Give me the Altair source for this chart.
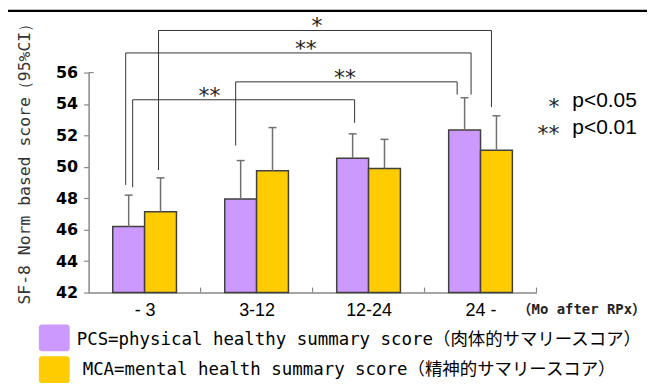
import altair as alt
import pandas as pd

# ---------------- data ----------------
groups = ["- 3", "3-12", "12-24", "24 -"]
series = ["PCS", "MCS"]
pcs_mean = [46.2, 47.95, 50.55, 52.35]
pcs_upper = [48.2, 50.4, 52.1, 54.4]
mcs_mean = [47.15, 49.75, 49.9, 51.05]
mcs_upper = [49.3, 52.5, 51.75, 53.25]

# significance brackets (group index, series index, bracket level, end levels)
br_label = ["*", "**", "**", "**"]
br_from_group = [0, 0, 1, 0]
br_from_series = [1, 0, 0, 0]
br_to_group = [3, 3, 3, 2]
br_to_series = [1, 0, 0, 0]
br_level = [58.68, 57.25, 55.41, 54.27]
br_from_end = [49.8, 48.85, 51.35, 48.7]
br_to_end = [53.8, 54.6, 54.6, 52.8]

y_ticks = [42, 44, 46, 48, 50, 52, 54, 56]
legend_labels = ["PCS=physical healthy summary score（肉体的サマリースコア）",
                 "MCA=mental health summary score（精神的サマリースコア）"]
sig_labels = ["*", "**"]
sig_texts = ["p<0.05", "p<0.01"]

# ---------------- style ----------------
W, H = 450, 221
colors = ["#CC99FF", "#FFCC00"]
BAR_W = 32 / 112.5          # bar width in x units
CAP = 4 / 112.5
br_from_nudge = [-2, -3, -5, 4]    # px
br_to_nudge = [-5, 6.5, -7.5, 2]   # px
br_label_x = [2.04, 1.94, 2.29, 1.08]
PX = 1 / 112.5
PY = 14 / 221

X = alt.Scale(domain=[0, 4], nice=False, zero=False)
Y = alt.Scale(domain=[42, 56], nice=False, zero=False)

rows = []
for i, g in enumerate(groups):
    c = i + 0.5
    for s, (m, u) in enumerate([(pcs_mean[i], pcs_upper[i]), (mcs_mean[i], mcs_upper[i])]):
        x0 = c - BAR_W if s == 0 else c
        rows.append(dict(group=g, series=series[s], x0=x0, x1=x0 + BAR_W,
                         xe=x0 + BAR_W / 2, mean=m, upper=u, base=42))
bars_df = pd.DataFrame(rows)

label_expr = "[" + ",".join("'%s'" % g for g in groups) + "][floor(datum.value)]"

xaxis = alt.Axis(values=[0.5, 1.5, 2.5, 3.5], labelExpr=label_expr, ticks=False,
                 domainColor="#888888", domainWidth=1.5, labelFont="Liberation Sans",
                 labelFontSize=18, labelColor="black", labelPadding=9, title=None,
                 grid=False, labelOverlap=False)
yaxis = alt.Axis(values=y_ticks, tickSize=5, tickColor="#888888", tickWidth=1.2,
                 domainColor="#888888", domainWidth=1.5, labelFont="DejaVu Sans",
                 labelFontWeight="bold", labelFontSize=16, labelColor="black",
                 labelPadding=6, title=None, grid=False, labelOverlap=False)


def XQ(f):
    return alt.X(f, type="quantitative", scale=X, axis=xaxis)


def YQ(f):
    return alt.Y(f, type="quantitative", scale=Y, axis=yaxis)


bars = alt.Chart(bars_df).mark_rect(stroke="#404040", strokeWidth=1.5).encode(
    x=XQ("x0"), x2="x1:Q", y=YQ("mean"), y2="base:Q",
    color=alt.Color("series:N", scale=alt.Scale(domain=series, range=colors), legend=None),
)

err = alt.Chart(bars_df).mark_rule(color="#707070", strokeWidth=1.5).encode(
    x=XQ("xe"), y=YQ("mean"), y2="upper:Q")
cap_df = bars_df.assign(c0=bars_df.xe - CAP, c1=bars_df.xe + CAP)
caps = alt.Chart(cap_df).mark_rule(color="#707070", strokeWidth=1.5).encode(
    x=XQ("c0"), x2="c1:Q", y=YQ("upper"))

# x-axis ticks at band boundaries, pointing up
bt_df = pd.DataFrame({"b": [1, 2, 3, 4]})
bticks = alt.Chart(bt_df).mark_rule(color="#888888", strokeWidth=1.2).encode(
    x=XQ("b"), y=alt.value(H), y2=alt.value(H - 5))

# brackets
seg = []
lab = []
for k in range(len(br_label)):
    xa = br_from_group[k] + 0.5 + (BAR_W / 2 if br_from_series[k] else -BAR_W / 2) + br_from_nudge[k] * PX
    xb = br_to_group[k] + 0.5 + (BAR_W / 2 if br_to_series[k] else -BAR_W / 2) + br_to_nudge[k] * PX
    L = br_level[k]
    seg.append(dict(xa=xa, xb=xa, ya=L, yb=br_from_end[k]))
    seg.append(dict(xa=xb, xb=xb, ya=L, yb=br_to_end[k]))
    seg.append(dict(xa=xa, xb=xb, ya=L, yb=L))
    lab.append(dict(x=br_label_x[k], y=L + 9 * PY, t=br_label[k]))
seg_df = pd.DataFrame(seg)
lab_df = pd.DataFrame(lab)
brackets = alt.Chart(seg_df).mark_rule(color="#333333", strokeWidth=1).encode(
    x=XQ("xa"), x2="xb:Q", y=YQ("ya"), y2="yb:Q")
br_text = alt.Chart(lab_df).mark_text(font="DejaVu Sans", fontSize=22, baseline="middle",
                                      align="center", color="#222222", dy=5).encode(
    x=XQ("x"), y=YQ("y"), text="t:N")

one = pd.DataFrame({"a": [0]})


def ptext(txt, x, y, **kw):
    return alt.Chart(one).mark_text(**kw).encode(
        x=alt.value(x), y=alt.value(y), text=alt.value(txt))


# frame lines
frame_top = alt.Chart(one).mark_rule(color="black", strokeWidth=2.5).encode(
    x=alt.value(-83), x2=alt.value(W + 200), y=alt.value(-62))
frame_left = alt.Chart(one).mark_rule(color="black", strokeWidth=2.5).encode(
    x=alt.value(-83), y=alt.value(-63), y2=alt.value(H + 200))

# top tick of y axis pointing right
ytop = alt.Chart(one).mark_rule(color="#888888", strokeWidth=1.2).encode(
    x=alt.value(0), x2=alt.value(5), y=alt.value(0))

ytitle = ptext("SF-8 Norm based score（95%CI）", -64, 88, font="DejaVu Sans Mono",
               fontSize=16.5, angle=270, align="center", baseline="middle", color="#333333")

xunit = ptext("（Mo after RPx）", 431, 239, font="DejaVu Sans Mono, Noto Sans CJK JP",
              fontSize=14, fontWeight="bold", align="left", baseline="middle", color="#222222")

# significance legend
sig_layers = []
for s, t, yy in zip(sig_labels, sig_texts, [29, 56]):
    sig_layers.append(ptext(s, 473, yy, font="DejaVu Sans", fontSize=22, align="right",
                            baseline="middle", color="#222222", dy=6))
    sig_layers.append(ptext(t, 486, yy, font="Liberation Sans", fontSize=21, align="left",
                            baseline="middle", color="black"))

# series legend
leg_layers = []
for col, label, y0, tx in zip(colors, legend_labels, [253, 285], [-12, -6]):
    leg_layers.append(alt.Chart(one).mark_rect(cornerRadius=3, color=col).encode(
        x=alt.value(-50), x2=alt.value(-19), y=alt.value(y0), y2=alt.value(y0 + 27)))
    leg_layers.append(ptext(label, tx, y0 + 16 if tx == -12 else y0 + 14,
                            font="DejaVu Sans Mono, Noto Sans CJK JP", fontSize=17.5,
                            align="left", baseline="middle", color="black"))

chart = alt.layer(bars, frame_top, frame_left, err, caps, bticks, ytop, brackets, br_text,
                  ytitle, xunit, *sig_layers, *leg_layers).properties(
    width=W, height=H,
    autosize=alt.AutoSizeParams(type="none"),
    padding={"left": 81, "top": 64, "right": 111, "bottom": 91},
    background="white",
).configure_view(stroke=None)

chart.save("out.html", embed_options={"renderer": "svg", "actions": False})
